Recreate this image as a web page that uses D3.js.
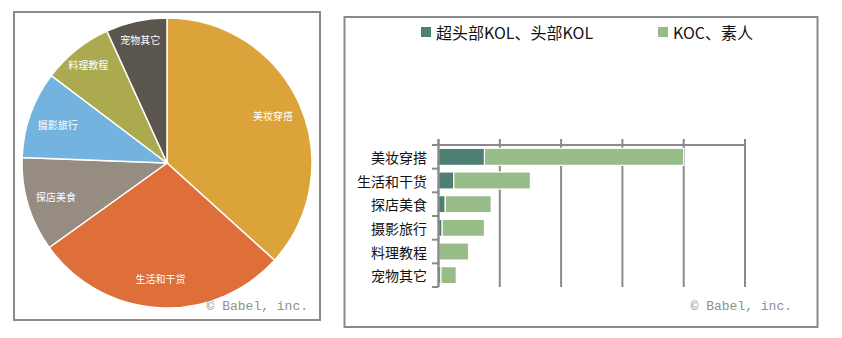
<!DOCTYPE html>
<html>
<head>
<meta charset="utf-8">
<script src="https://cdn.jsdelivr.net/npm/d3@7"></script>
<style>
  html, body { margin: 0; padding: 0; background: #fff; }
  svg { display: block; }
</style>
</head>
<body>
<script>
// Content categories shared by both charts
const categories = ['美妆穿搭', '生活和干货', '探店美食', '摄影旅行', '料理教程', '宠物其它'];
// Share of each category (pie)
const shares = [36.7, 28.4, 10.5, 9.7, 7.9, 6.8];
// Stacked bars: head influencers vs. small creators
const kolValues = [7.5, 2.5, 1.1, 0.6, 0, 0.4];
const kocValues = [32.5, 12.5, 7.5, 6.9, 4.9, 2.5];
const seriesNames = ['超头部KOL、头部KOL', 'KOC、素人'];
const xTicks = [0, 10, 20, 30, 40, 50];

const pieColors = ['#dba33a', '#de6e3a', '#968c82', '#74b2e0', '#abaa4e', '#5a554d'];
const barColors = ['#4e7f74', '#98bc88'];
const frameColor = '#8a8a8a';
const cjk = '"Noto Sans CJK SC", "Noto Sans", sans-serif';

const svg = d3.select('body').append('svg')
  .attr('width', 842).attr('height', 338);

// ---------- Panel frames ----------
svg.append('rect').attr('x', 14).attr('y', 12).attr('width', 306).attr('height', 308)
  .attr('fill', 'none').attr('stroke', frameColor).attr('stroke-width', 2);
svg.append('rect').attr('x', 344.5).attr('y', 17).attr('width', 473).attr('height', 310)
  .attr('fill', 'none').attr('stroke', frameColor).attr('stroke-width', 2);

// ---------- Pie ----------
const cx = 167, cy = 163, R = 145;
const pieG = svg.append('g').attr('transform', `translate(${cx},${cy})`);
const pie = d3.pie().sort(null).value(d => d.v);
const arcs = pie(categories.map((c, i) => ({ c, v: shares[i] })));
const arc = d3.arc().innerRadius(0).outerRadius(R);
// narrow slices push their labels further out toward the rim
const labelRadius = d => (d.endAngle - d.startAngle) < 0.5 ? R * 0.87 : R * 0.8;

pieG.selectAll('path.slice').data(arcs).join('path')
  .attr('class', 'slice')
  .attr('d', arc)
  .attr('fill', (d, i) => pieColors[i])
  .attr('stroke', '#fff').attr('stroke-width', 1.5);

pieG.selectAll('text.plabel').data(arcs).join('text')
  .attr('class', 'plabel')
  .attr('transform', d => {
    const r = labelRadius(d);
    return `translate(${d3.arc().innerRadius(r).outerRadius(r).centroid(d)})`;
  })
  .attr('text-anchor', 'middle')
  .attr('dominant-baseline', 'central')
  .attr('font-family', cjk)
  .attr('font-size', 10)
  .attr('fill', '#fff')
  .text(d => d.data.c);

svg.append('text')
  .attr('x', 308).attr('y', 310)
  .attr('text-anchor', 'end')
  .attr('font-family', '"Liberation Mono", monospace')
  .attr('font-size', 13)
  .attr('fill', '#8f8f8f')
  .text('© Babel, inc.');

// ---------- Stacked bar chart ----------
const x = d3.scaleLinear().domain([0, 50]).range([438.5, 745]);
const y = d3.scaleBand().domain(categories).range([145, 287]).paddingInner(0.28).paddingOuter(0.14);
const yOuter = d3.scaleBand().domain(categories).range([145, 287]);

const grid = svg.append('g');
// vertical gridlines (with short tick stubs above the top axis)
grid.selectAll('line.gx').data(xTicks).join('line')
  .attr('class', 'gx')
  .attr('x1', d => x(d)).attr('x2', d => x(d))
  .attr('y1', 139).attr('y2', 287)
  .attr('stroke', frameColor).attr('stroke-width', 2);
// top axis line
grid.append('line')
  .attr('x1', x(0)).attr('x2', x(50)).attr('y1', 145).attr('y2', 145)
  .attr('stroke', frameColor).attr('stroke-width', 2);
// category boundary ticks on the left axis
const bounds = categories.map(c => yOuter(c)).concat([yOuter.range()[1]]);
grid.selectAll('line.ty').data(bounds).join('line')
  .attr('class', 'ty')
  .attr('x1', 432).attr('x2', x(0))
  .attr('y1', d => d).attr('y2', d => d)
  .attr('stroke', frameColor).attr('stroke-width', 2);

const stackData = categories.map((c, i) => ({ c, kol: kolValues[i], koc: kocValues[i] }));
const stack = d3.stack().keys(['kol', 'koc'])(stackData);

svg.append('g').selectAll('g').data(stack).join('g')
  .attr('fill', (d, i) => barColors[i])
  .selectAll('rect').data(d => d.filter(s => s[1] - s[0] > 0)).join('rect')
  .attr('x', d => x(d[0]))
  .attr('y', d => y(d.data.c))
  .attr('width', d => x(d[1]) - x(d[0]))
  .attr('height', y.bandwidth())
  .attr('stroke', '#fff').attr('stroke-width', 1.2);

// left axis line drawn over the bars
svg.append('line')
  .attr('x1', x(0)).attr('x2', x(0)).attr('y1', 139).attr('y2', 287)
  .attr('stroke', frameColor).attr('stroke-width', 2);

// category labels
svg.append('g').selectAll('text').data(categories).join('text')
  .attr('x', 427)
  .attr('y', d => yOuter(d) + yOuter.bandwidth() / 2)
  .attr('text-anchor', 'end')
  .attr('dominant-baseline', 'central')
  .attr('font-family', cjk)
  .attr('font-size', 14)
  .attr('fill', '#111')
  .text(d => d);

// legend
const legendX = [421, 658];
const lg = svg.append('g').selectAll('g').data(seriesNames).join('g')
  .attr('transform', (d, i) => `translate(${legendX[i]},27)`);
lg.append('rect').attr('width', 10).attr('height', 10)
  .attr('fill', (d, i) => barColors[i]);
lg.append('text')
  .attr('x', 15).attr('y', 5)
  .attr('dominant-baseline', 'central')
  .attr('font-family', cjk)
  .attr('font-size', 16)
  .attr('fill', '#111')
  .text(d => d);

svg.append('text')
  .attr('x', 792).attr('y', 310)
  .attr('text-anchor', 'end')
  .attr('font-family', '"Liberation Mono", monospace')
  .attr('font-size', 13)
  .attr('fill', '#8f8f8f')
  .text('© Babel, inc.');
</script>
</body>
</html>
